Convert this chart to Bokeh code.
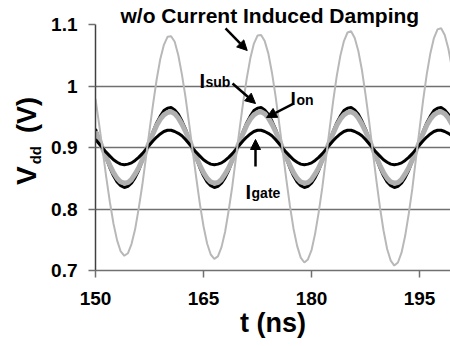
import math
from bokeh.plotting import figure
from bokeh.layouts import row
from bokeh.models import (Range1d, FixedTicker, CustomJSTickFormatter, Label, Arrow,
                          NormalHead, Title, Div)
from bokeh.embed import file_html
from bokeh.resources import INLINE

# ---------------- data ----------------
t_start = 150.0
t_step = 0.5

v_no_damping = [
    0.979, 0.938, 0.895, 0.851, 0.811, 0.776, 0.749, 0.731, 0.724, 0.728, 0.743, 0.767, 0.801,
    0.839, 0.883, 0.928, 0.971, 1.011, 1.044, 1.067, 1.080, 1.081, 1.072, 1.050, 1.019,
    0.982, 0.939, 0.894, 0.850, 0.808, 0.772, 0.744, 0.726, 0.719, 0.723, 0.738, 0.763, 0.798,
    0.837, 0.883, 0.929, 0.973, 1.012, 1.045, 1.069, 1.082, 1.083, 1.073, 1.053, 1.022,
    0.984, 0.940, 0.894, 0.848, 0.805, 0.768, 0.740, 0.721, 0.713, 0.718, 0.733, 0.760, 0.795,
    0.835, 0.882, 0.929, 0.975, 1.016, 1.049, 1.073, 1.087, 1.089, 1.078, 1.057, 1.026,
    0.986, 0.942, 0.894, 0.847, 0.803, 0.765, 0.735, 0.716, 0.708, 0.713, 0.729, 0.756, 0.792,
    0.833, 0.882, 0.930, 0.977, 1.019, 1.053, 1.078, 1.092, 1.094, 1.083, 1.061, 1.029,
]

v_isub = [
    0.930, 0.914, 0.898, 0.882, 0.867, 0.854, 0.844, 0.838, 0.835, 0.837, 0.842, 0.851, 0.863,
    0.878, 0.894, 0.910, 0.926, 0.940, 0.951, 0.960, 0.964, 0.965, 0.961, 0.954, 0.943,
    0.930, 0.914, 0.898, 0.882, 0.867, 0.854, 0.844, 0.838, 0.835, 0.837, 0.842, 0.851, 0.863,
    0.878, 0.894, 0.910, 0.926, 0.940, 0.951, 0.960, 0.964, 0.965, 0.961, 0.954, 0.943,
    0.930, 0.914, 0.898, 0.882, 0.867, 0.854, 0.844, 0.838, 0.835, 0.837, 0.842, 0.851, 0.863,
    0.878, 0.894, 0.910, 0.926, 0.940, 0.951, 0.960, 0.964, 0.965, 0.961, 0.954, 0.943,
    0.930, 0.914, 0.898, 0.882, 0.867, 0.854, 0.844, 0.838, 0.835, 0.837, 0.842, 0.851, 0.863,
    0.878, 0.894, 0.910, 0.926, 0.940, 0.951, 0.960, 0.964, 0.965, 0.961, 0.954, 0.943,
]

v_ion = [
    0.926, 0.913, 0.898, 0.884, 0.871, 0.859, 0.850, 0.844, 0.842, 0.843, 0.848, 0.857, 0.867,
    0.880, 0.895, 0.909, 0.923, 0.936, 0.946, 0.953, 0.957, 0.958, 0.955, 0.948, 0.938,
    0.926, 0.913, 0.898, 0.884, 0.871, 0.859, 0.850, 0.844, 0.842, 0.843, 0.848, 0.857, 0.867,
    0.880, 0.895, 0.909, 0.923, 0.936, 0.946, 0.953, 0.957, 0.958, 0.955, 0.948, 0.938,
    0.926, 0.913, 0.898, 0.884, 0.871, 0.859, 0.850, 0.844, 0.842, 0.843, 0.848, 0.857, 0.867,
    0.880, 0.895, 0.909, 0.923, 0.936, 0.946, 0.953, 0.957, 0.958, 0.955, 0.948, 0.938,
    0.926, 0.913, 0.898, 0.884, 0.871, 0.859, 0.850, 0.844, 0.842, 0.843, 0.848, 0.857, 0.867,
    0.880, 0.895, 0.909, 0.923, 0.936, 0.946, 0.953, 0.957, 0.958, 0.955, 0.948, 0.938,
]

v_igate = [
    0.913, 0.906, 0.899, 0.892, 0.886, 0.880, 0.876, 0.873, 0.872, 0.873, 0.875, 0.879, 0.884,
    0.890, 0.897, 0.904, 0.911, 0.917, 0.922, 0.926, 0.928, 0.928, 0.926, 0.923, 0.919,
    0.913, 0.906, 0.899, 0.892, 0.886, 0.880, 0.876, 0.873, 0.872, 0.873, 0.875, 0.879, 0.884,
    0.890, 0.897, 0.904, 0.911, 0.917, 0.922, 0.926, 0.928, 0.928, 0.926, 0.923, 0.919,
    0.913, 0.906, 0.899, 0.892, 0.886, 0.880, 0.876, 0.873, 0.872, 0.873, 0.875, 0.879, 0.884,
    0.890, 0.897, 0.904, 0.911, 0.917, 0.922, 0.926, 0.928, 0.928, 0.926, 0.923, 0.919,
    0.913, 0.906, 0.899, 0.892, 0.886, 0.880, 0.876, 0.873, 0.872, 0.873, 0.875, 0.879, 0.884,
    0.890, 0.897, 0.904, 0.911, 0.917, 0.922, 0.926, 0.928, 0.928, 0.926, 0.923, 0.919,
]

t = [t_start + t_step * i for i in range(len(v_no_damping))]

x_ticks = [150, 165, 180, 195]
y_ticks = [0.7, 0.8, 0.9, 1.0, 1.1]

title_text = "w/o Current Induced Damping"
x_title = "t (ns)"
y_title_main = "V"
y_title_sub = "dd"
y_title_unit = "(V)"

# ---------------- figure ----------------
FONT = "Liberation Sans"

p = figure(width=405, height=346, output_backend="svg", toolbar_location=None,
           x_range=Range1d(150, 199.3), y_range=Range1d(0.7, 1.1),
           min_border_left=50, min_border_right=0, min_border_top=24, min_border_bottom=76)
p.outline_line_color = None
p.background_fill_color = "white"
p.border_fill_color = "white"

p.add_layout(Title(text=title_text, align="left", offset=25, standoff=-4,
                   text_font=FONT, text_font_style="bold", text_font_size="21px",
                   text_color="black"), "above")

p.xgrid.visible = False
p.ygrid.ticker = FixedTicker(ticks=y_ticks)
p.ygrid.grid_line_color = "#707070"
p.ygrid.grid_line_width = 1.5

for ax in (p.xaxis, p.yaxis):
    ax.major_label_text_font = FONT
    ax.major_label_text_font_style = "bold"
    ax.major_label_text_font_size = "19px"
    ax.major_label_text_color = "black"
    ax.minor_tick_line_color = None
    ax.major_tick_in = 0
    ax.major_tick_out = 7
    ax.major_tick_line_color = "#707070"
    ax.major_tick_line_width = 1.5

p.xaxis.ticker = FixedTicker(ticks=x_ticks)
p.yaxis.ticker = FixedTicker(ticks=y_ticks)
p.yaxis.formatter = CustomJSTickFormatter(code="return Number(tick.toFixed(2)).toString();")
p.xaxis.axis_line_color = "#707070"
p.xaxis.axis_line_width = 1.5
p.yaxis.axis_line_color = "#404040"
p.yaxis.axis_line_width = 1.5
p.xaxis.major_label_standoff = 14
p.yaxis.major_label_standoff = 11

p.xaxis.axis_label = x_title
p.xaxis.axis_label_text_font = FONT
p.xaxis.axis_label_text_font_style = "bold"
p.xaxis.axis_label_text_font_size = "27px"
p.xaxis.axis_label_text_color = "black"
p.xaxis.axis_label_standoff = 0

# ---------------- curves ----------------
p.line(t, v_isub, line_color="black", line_width=3)
p.line(t, v_ion, line_color="#b0b0b0", line_width=5)
p.line(t, v_igate, line_color="black", line_width=3)
p.line(t, v_no_damping, line_color="#b8b8b8", line_width=2)

# ---------------- annotations ----------------
def lab(x, y, text, size, **kw):
    p.add_layout(Label(x=x, y=y, text=text, text_font=FONT, text_font_style="bold",
                       text_font_size=size, text_color="black", **kw))

lab(164.44, 1.0089, "I", "20px", text_baseline="alphabetic")
lab(165.28, 1.0065, "sub", "14px", text_baseline="alphabetic")
lab(177.08, 0.9792, "I", "19px", text_baseline="alphabetic")
lab(177.92, 0.9767, "on", "14px", text_baseline="alphabetic")
lab(170.83, 0.8273, "I", "20px", text_baseline="alphabetic")
lab(171.67, 0.8260, "gate", "14px", text_baseline="alphabetic")

def arrow(x0, y0, x1, y1):
    p.add_layout(Arrow(end=NormalHead(size=10, fill_color="black", line_color="black"),
                       x_start=x0, y_start=y0, x_end=x1, y_end=y1,
                       line_color="black", line_width=2.5))

arrow(168.06, 1.0935, 171.07, 1.0577)
arrow(169.03, 1.004, 172.22, 0.9715)
arrow(177.5, 0.9715, 173.75, 0.9488)
arrow(172.22, 0.8691, 172.22, 0.913)

# ---------------- y-axis title as rotated HTML text ----------------
y_html = (
    '<div style="display:inline-block; white-space:nowrap; line-height:1; '
    'font-family:\'Liberation Sans\'; font-weight:bold; font-size:28px; color:black; '
    'transform-origin:0 0; transform:translate(13px, 185px) rotate(-90deg);">'
    + y_title_main
    + '<span style="font-size:15px; position:relative; top:5px; margin-left:2px;">'
    + y_title_sub + '</span>'
    + '<span style="font-size:27px; margin-left:13px;">' + y_title_unit + '</span>'
    + '</div>'
)
ydiv = Div(text=y_html, width=45, height=346, margin=0)

layout = row(ydiv, p, spacing=0)

open("out.html", "w").write(file_html(layout, INLINE))
